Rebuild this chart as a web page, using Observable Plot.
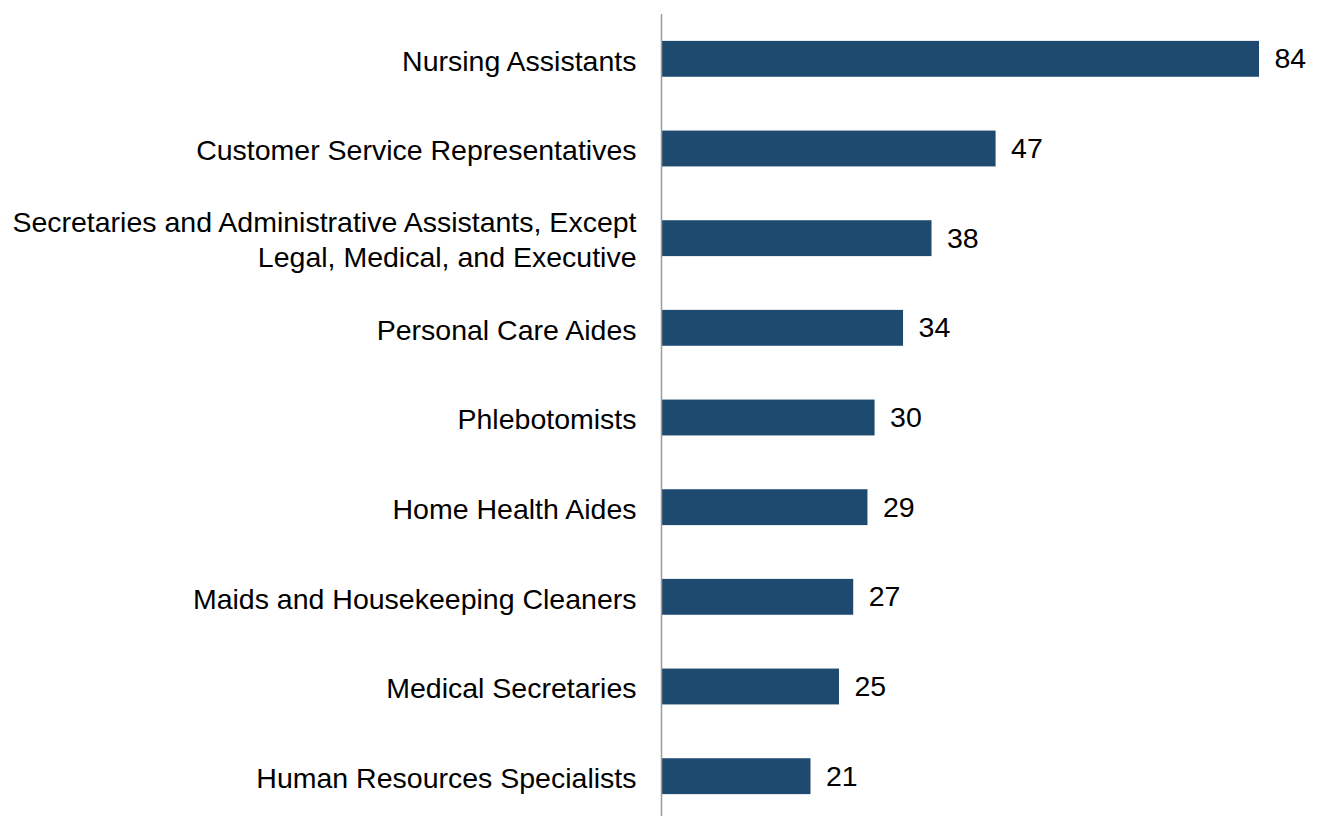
<!DOCTYPE html>
<html><head><meta charset="utf-8">
<script src="https://cdn.jsdelivr.net/npm/d3@7"></script>
<script src="https://cdn.jsdelivr.net/npm/@observablehq/plot@0.6"></script>
<style>body{margin:0;background:#fff;} svg{display:block;}</style>
</head><body><div id="chart"></div>
<script>
const occupations = [
  "Nursing Assistants",
  "Customer Service Representatives",
  "Secretaries and Administrative Assistants, Except\nLegal, Medical, and Executive",
  "Personal Care Aides",
  "Phlebotomists",
  "Home Health Aides",
  "Maids and Housekeeping Cleaners",
  "Medical Secretaries",
  "Human Resources Specialists"
];
const values = [84, 47, 38, 34, 30, 29, 27, 25, 21];
const data = occupations.map((o, i) => ({occupation: o, value: values[i]}));

const chart = Plot.plot({
  width: 1317,
  height: 816,
  marginLeft: 661,
  marginRight: 58,
  marginTop: 14,
  marginBottom: -5,
  style: {fontFamily: "Liberation Sans, Arial, sans-serif", fontSize: "28.5px", color: "#000", background: "#fff"},
  x: {domain: [0, 84], axis: null},
  y: {domain: occupations, axis: null, paddingInner: 0.6, paddingOuter: 0.3, round: false},
  marks: [
    Plot.barX(data, {x: "value", y: "occupation", fill: "#1f4a6f"}),
    Plot.ruleX([0], {stroke: "#9a9a9a", strokeWidth: 1.5}),
    Plot.text(data, {x: 0, y: "occupation", text: "occupation", textAnchor: "end", dx: -25, dy: 0, lineHeight: 1.23, fill: "#000", fontSize: 28.5}),
    Plot.text(data, {x: "value", y: "occupation", text: d => String(d.value), textAnchor: "start", dx: 15, dy: 0, fill: "#000", fontSize: 28.5})
  ]
});
document.getElementById("chart").appendChild(chart);
</script>
</body></html>
